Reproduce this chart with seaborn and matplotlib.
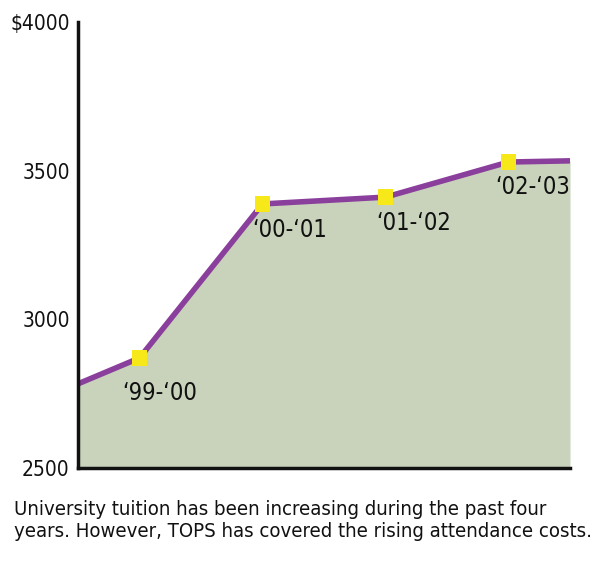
import matplotlib
matplotlib.use("Agg")
import matplotlib.pyplot as plt
import seaborn as sns
import pandas as pd

sns.set_style("white")
plt.rcParams["font.family"] = ["DejaVu Sans"]
plt.rcParams["font.stretch"] = "condensed"

# data
line_x = [0, 0.5, 1.5, 2.5, 3.5, 4]
line_y = [2783, 2870, 3388, 3411, 3529, 3533]
years = ["\u201899-\u201800", "\u201800-\u201801", "\u201801-\u201802", "\u201802-\u201803"]
year_x = [0.5, 1.5, 2.5, 3.5]
tuition = [2870, 3388, 3411, 3529]
yticks = [2500, 3000, 3500, 4000]
ytick_labels = ["2500", "3000", "3500", "$4000"]
caption = "University tuition has been increasing during the past four\nyears. However, TOPS has covered the rising attendance costs."

line_df = pd.DataFrame({"x": line_x, "y": line_y})
pt_df = pd.DataFrame({"x": year_x, "y": tuition, "year": years})

fig = plt.figure(figsize=(6, 5.74), dpi=100)
ax = fig.add_axes([0.13, 0.1847, 0.82, 0.777])

ax.fill_between(line_df["x"], line_df["y"], 2500, color="#c9d3bb", lw=0, zorder=1)
sns.lineplot(data=line_df, x="x", y="y", ax=ax, color="#8b3f9c", lw=4, zorder=2)
sns.scatterplot(data=pt_df, x="x", y="y", ax=ax, marker="s", s=125, color="#f7e81a",
                edgecolor="none", zorder=3)

offsets = [(20, -35), (27, -26), (28, -26), (24, -25)]
for (xv, yv, lab), off in zip(zip(year_x, tuition, years), offsets):
    ax.annotate(lab, (xv, yv), xytext=off, textcoords="offset pixels",
                ha="center", va="center", fontsize=17, color="#111111")

ax.set_xlim(0, 4)
ax.set_ylim(2500, 4000)
ax.set_xticks([1, 2, 3, 4])
ax.set_xticklabels([])
ax.set_yticks(yticks)
ax.set_yticklabels(ytick_labels, fontsize=15)
ax.set_xlabel("")
ax.set_ylabel("")
for s in ["top", "right"]:
    ax.spines[s].set_visible(False)
for s in ["left", "bottom"]:
    ax.spines[s].set_linewidth(2.5)
    ax.spines[s].set_color("#111111")
ax.tick_params(axis="both", direction="in", length=9, width=2.5, color="#111111", pad=6)
ax.tick_params(axis="y", labelcolor="#111111")

fig.text(0.023, 0.094, caption, fontsize=14.6, color="#111111",
         ha="left", va="center", linespacing=1.2)

fig.savefig("out.png", dpi=100)
